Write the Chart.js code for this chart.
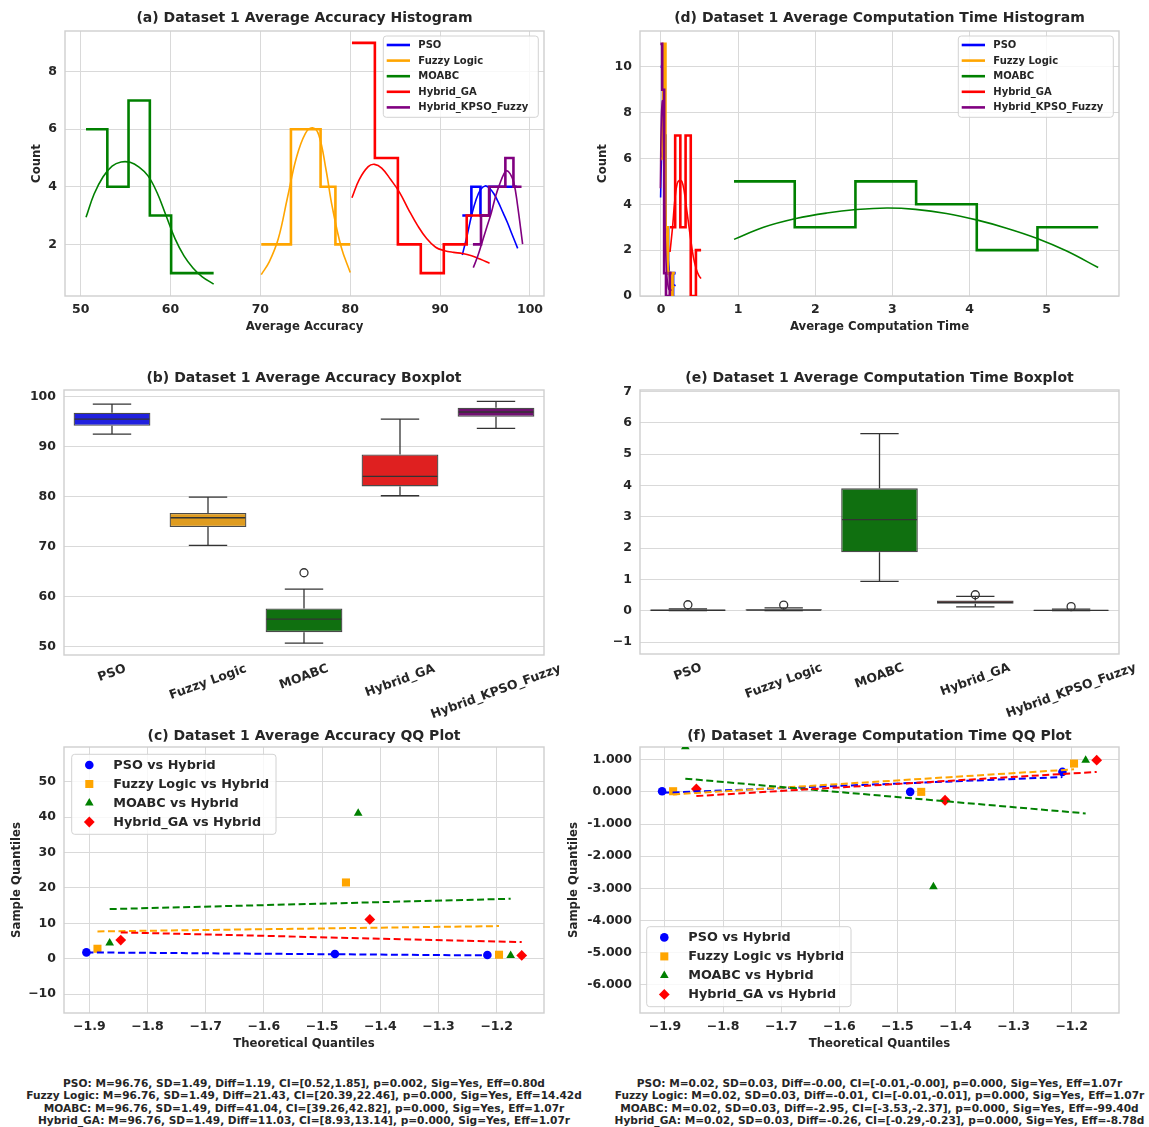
<!DOCTYPE html>
<html><head><meta charset="utf-8">
<script src="https://cdn.jsdelivr.net/npm/chart.js@4.4.1/dist/chart.umd.min.js"></script>
<style>
body{margin:0;background:#fff;width:1149px;height:1127px;position:relative;overflow:hidden;font-family:'DejaVu Sans',sans-serif;}
canvas{position:absolute;}
.note{position:absolute;font-weight:bold;font-size:10.6px;font-family:'DejaVu Sans',sans-serif;color:#262626;text-align:center;line-height:12.3px;white-space:pre;transform:translateX(-50%);}
</style></head><body>
<canvas id="ca" width="560" height="345" style="left:0;top:0"></canvas>
<canvas id="cd" width="589" height="345" style="left:560px;top:0"></canvas>
<canvas id="cb" width="560" height="385" style="left:0;top:345px"></canvas>
<canvas id="ce" width="589" height="385" style="left:560px;top:345px"></canvas>
<canvas id="cc" width="560" height="340" style="left:0;top:720px"></canvas>
<canvas id="cf" width="589" height="340" style="left:560px;top:720px"></canvas>
<div class="note" id="noteL" style="left:304px;top:1077px"></div>
<div class="note" id="noteR" style="left:879.5px;top:1077px"></div>
<script>
// ================= DATA =================
const methods = ['PSO', 'Fuzzy Logic', 'MOABC', 'Hybrid_GA', 'Hybrid_KPSO_Fuzzy'];

// (a) accuracy histogram: bin edges and counts
const accEdgesPSO   = [92.47, 93.48, 94.49, 95.50, 96.51, 97.52, 98.53];
const accCountsPSO  = [3, 4, 3, 4, 4, 4];
const accEdgesFuzzy = [70.10, 71.75, 73.40, 75.05, 76.70, 78.35, 80.00];
const accCountsFuzzy= [2, 2, 6, 6, 4, 2];
const accEdgesMOABC = [50.60, 52.97, 55.33, 57.70, 60.07, 62.43, 64.80];
const accCountsMOABC= [6, 4, 7, 3, 1, 1];
const accEdgesGA    = [80.19, 82.74, 85.30, 87.85, 90.41, 92.96, 95.52];
const accCountsGA   = [9, 5, 2, 1, 2, 3];
const accEdgesKPSO  = [93.65, 94.55, 95.45, 96.35, 97.26, 98.16, 99.06];
const accCountsKPSO = [2, 3, 4, 4, 5, 4];
// (a) KDE curves
const accKdeXPSO   = [92.47, 93.0, 93.5, 94.0, 94.5, 95.0, 95.5, 96.0, 96.5, 97.0, 97.5, 98.0, 98.63];
const accKdeYPSO   = [1.63, 2.3, 3.0, 3.55, 3.9, 4.03, 3.95, 3.75, 3.45, 3.1, 2.75, 2.35, 1.86];
const accKdeXFuzzy = [70.1, 71.0, 72.0, 73.0, 74.0, 75.0, 75.8, 76.5, 77.3, 78.0, 79.0, 80.0];
const accKdeYFuzzy = [0.95, 1.4, 2.2, 3.6, 5.0, 5.85, 6.05, 5.8, 4.6, 3.3, 1.9, 1.02];
const accKdeXMOABC = [50.6, 51.5, 52.5, 53.5, 54.5, 55.5, 56.5, 57.5, 58.5, 59.5, 60.5, 61.5, 62.5, 63.5, 64.8];
const accKdeYMOABC = [2.94, 3.75, 4.35, 4.72, 4.86, 4.85, 4.68, 4.38, 3.8, 3.0, 2.2, 1.6, 1.18, 0.88, 0.62];
const accKdeXGA    = [80.19, 81.0, 82.0, 82.7, 83.5, 84.5, 85.5, 86.5, 87.5, 88.5, 89.5, 90.5, 91.5, 92.5, 93.5, 94.5, 95.5];
const accKdeYGA    = [3.62, 4.25, 4.7, 4.78, 4.65, 4.25, 3.8, 3.2, 2.65, 2.2, 1.9, 1.78, 1.72, 1.68, 1.6, 1.48, 1.34];
const accKdeXKPSO  = [93.69, 94.2, 94.7, 95.2, 95.7, 96.2, 96.7, 97.1, 97.4, 97.8, 98.2, 98.6, 99.18];
const accKdeYKPSO  = [1.19, 1.6, 2.1, 2.6, 3.1, 3.7, 4.15, 4.45, 4.56, 4.45, 4.15, 3.4, 2.01];

// (d) computation time histogram
const timeEdgesPSO   = [-0.005, 0.027, 0.060, 0.092, 0.125, 0.157, 0.190];
const timeCountsPSO  = [10, 7, 3, 1, 0, 1];
const timeEdgesFuzzy = [-0.003, 0.028, 0.058, 0.089, 0.119, 0.150, 0.180];
const timeCountsFuzzy= [6, 11, 3, 1, 0, 1];
const timeEdgesMOABC = [0.947, 1.734, 2.521, 3.308, 4.094, 4.881, 5.668];
const timeCountsMOABC= [5, 3, 5, 4, 2, 3];
const timeEdgesGA    = [0.117, 0.184, 0.251, 0.319, 0.386, 0.453, 0.520];
const timeCountsGA   = [3, 7, 3, 7, 0, 2];
const timeEdgesKPSO  = [-0.008, 0.016, 0.041, 0.065, 0.089, 0.114, 0.138];
const timeCountsKPSO = [11, 9, 1, 0, 0, 1];
const timeKdeXPSO   = [-0.005, 0.01, 0.03, 0.05, 0.08, 0.12, 0.16, 0.19];
const timeKdeYPSO   = [4.3, 6.2, 6.4, 4.6, 2.2, 0.8, 0.5, 0.45];
const timeKdeXFuzzy = [-0.003, 0.015, 0.035, 0.055, 0.08, 0.12, 0.15, 0.18];
const timeKdeYFuzzy = [5.9, 7.6, 6.8, 4.2, 1.8, 0.6, 0.45, 0.4];
const timeKdeXMOABC = [0.947, 1.33, 1.75, 2.15, 2.53, 2.93, 3.30, 3.70, 4.09, 4.48, 4.87, 5.26, 5.668];
const timeKdeYMOABC = [2.47, 3.0, 3.38, 3.62, 3.77, 3.84, 3.78, 3.6, 3.32, 2.96, 2.52, 1.96, 1.24];
const timeKdeXGA    = [0.117, 0.15, 0.18, 0.21, 0.24, 0.27, 0.30, 0.34, 0.38, 0.42, 0.46, 0.49, 0.52];
const timeKdeYGA    = [1.92, 3.0, 4.2, 4.9, 5.05, 5.0, 4.6, 3.6, 2.6, 1.7, 1.15, 0.9, 0.76];
const timeKdeXKPSO  = [-0.008, 0.005, 0.02, 0.035, 0.05, 0.07, 0.1, 0.138];
const timeKdeYKPSO  = [4.7, 7.8, 8.5, 6.5, 3.5, 1.2, 0.3, 0.25];

// (b) accuracy boxplot statistics
const accLo  = [92.52, 70.20, 50.63, 80.16, 93.65];
const accQ1  = [94.19, 73.88, 52.84, 82.03, 95.99];
const accMed = [95.50, 75.75, 55.44, 84.03, 96.93];
const accQ3  = [96.80, 76.69, 57.58, 88.44, 97.80];
const accHi  = [98.53, 79.90, 61.46, 95.52, 99.06];
const accOutliers = [null, null, 64.73, null, null];

// (e) time boxplot statistics
const timeLo  = [0.0, 0.0, 0.94, 0.12, 0.0];
const timeQ1  = [0.008, 0.01, 1.87, 0.22, 0.008];
const timeMed = [0.015, 0.02, 2.91, 0.27, 0.013];
const timeQ3  = [0.03, 0.045, 3.91, 0.33, 0.025];
const timeHi  = [0.06, 0.09, 5.66, 0.46, 0.05];
const timeOutliers = [0.19, 0.18, null, 0.51, 0.13];

// (c)/(f) QQ plots
const qqNames = ['PSO vs Hybrid', 'Fuzzy Logic vs Hybrid', 'MOABC vs Hybrid', 'Hybrid_GA vs Hybrid'];
const qqXPSO   = [-1.905, -1.478, -1.216];
const qqXFuzzy = [-1.886, -1.459, -1.196];
const qqXMOABC = [-1.865, -1.438, -1.176];
const qqXGA    = [-1.846, -1.418, -1.157];
const accQQYPSO   = [1.79, 1.32, 1.04];
const accQQYFuzzy = [2.82, 21.56, 1.13];
const accQQYMOABC = [4.43, 41.1, 0.94];
const accQQYGA    = [5.27, 11.1, 0.94];
const accFitYPSO   = [1.79, 0.94];
const accFitYFuzzy = [7.72, 9.23];
const accFitYMOABC = [14.03, 16.95];
const accFitYGA    = [7.44, 4.71];
const timeQQYPSO   = [0.02, 0.0, 0.62];
const timeQQYFuzzy = [0.02, 0.0, 0.88];
const timeQQYMOABC = [1.40, -2.95, 0.985];
const timeQQYGA    = [0.09, -0.26, 0.985];
const timeFitYPSO   = [-0.03, 0.46];
const timeFitYFuzzy = [-0.08, 0.70];
const timeFitYMOABC = [0.41, -0.67];
const timeFitYGA    = [-0.13, 0.62];

// tick values
const accHistXTicks  = [50, 60, 70, 80, 90, 100];
const accHistYTicks  = [2, 4, 6, 8];
const timeHistXTicks = [0, 1, 2, 3, 4, 5];
const timeHistYTicks = [0, 2, 4, 6, 8, 10];
const accBoxYTicks   = [50, 60, 70, 80, 90, 100];
const timeBoxYTicks  = [-1, 0, 1, 2, 3, 4, 5, 6, 7];
const qqXTicks       = [-1.9, -1.8, -1.7, -1.6, -1.5, -1.4, -1.3, -1.2];
const accQQYTicks    = [-10, 0, 10, 20, 30, 40, 50];
const timeQQYTicks   = [-6, -5, -4, -3, -2, -1, 0, 1];

const notesLeft = [
  'PSO: M=96.76, SD=1.49, Diff=1.19, CI=[0.52,1.85], p=0.002, Sig=Yes, Eff=0.80d',
  'Fuzzy Logic: M=96.76, SD=1.49, Diff=21.43, CI=[20.39,22.46], p=0.000, Sig=Yes, Eff=14.42d',
  'MOABC: M=96.76, SD=1.49, Diff=41.04, CI=[39.26,42.82], p=0.000, Sig=Yes, Eff=1.07r',
  'Hybrid_GA: M=96.76, SD=1.49, Diff=11.03, CI=[8.93,13.14], p=0.000, Sig=Yes, Eff=1.07r'
];
const notesRight = [
  'PSO: M=0.02, SD=0.03, Diff=-0.00, CI=[-0.01,-0.00], p=0.000, Sig=Yes, Eff=1.07r',
  'Fuzzy Logic: M=0.02, SD=0.03, Diff=-0.01, CI=[-0.01,-0.01], p=0.000, Sig=Yes, Eff=1.07r',
  'MOABC: M=0.02, SD=0.03, Diff=-2.95, CI=[-3.53,-2.37], p=0.000, Sig=Yes, Eff=-99.40d',
  'Hybrid_GA: M=0.02, SD=0.03, Diff=-0.26, CI=[-0.29,-0.23], p=0.000, Sig=Yes, Eff=-8.78d'
];

// ================= STYLE =================
const lineColors = ['#0000ff', '#ffa500', '#008000', '#ff0000', '#800080'];
const boxFill = ['#2020df', '#df9c20', '#107010', '#df2020', '#701070'];
const qqStyles = ['circle', 'rect', 'triangle', 'rectRot'];
const qqRadius = [4.3, 5.7, 5.0, 5.4];
const TXT = '#262626';
const GRID = '#d9d9d9';

Chart.defaults.font.family = "'DejaVu Sans', sans-serif";
Chart.defaults.font.weight = 'bold';
Chart.defaults.color = TXT;
Chart.defaults.animation = false;
Chart.defaults.plugins.legend.display = false;
Chart.defaults.plugins.tooltip.enabled = false;

const framePlugin = {
  id: 'frame',
  beforeDatasetsDraw(chart) {
    const {ctx, chartArea: a} = chart;
    ctx.save(); ctx.strokeStyle = '#cfcfcf'; ctx.lineWidth = 1.4;
    ctx.strokeRect(a.left, a.top, a.right - a.left, a.bottom - a.top);
    ctx.restore();
  }
};
Chart.register(framePlugin);

const mplLegend = {
  id: 'mplLegend',
  afterDraw(chart, args, o) {
    if (!o || !o.show) return;
    const {ctx, chartArea: a} = chart;
    const x0 = a.left + o.dx, y0 = a.top + o.dy;
    ctx.save();
    ctx.beginPath();
    if (ctx.roundRect) ctx.roundRect(x0, y0, o.w, o.h, 3); else ctx.rect(x0, y0, o.w, o.h);
    ctx.fillStyle = 'rgba(255,255,255,0.8)'; ctx.fill();
    ctx.strokeStyle = '#d2d2d2'; ctx.lineWidth = 1; ctx.stroke();
    const items = chart.data.datasets.filter(d => d.inLegend);
    ctx.font = 'bold ' + o.fontSize + "px 'DejaVu Sans', sans-serif";
    ctx.textBaseline = 'middle'; ctx.textAlign = 'left';
    items.forEach((d, i) => {
      const cy = y0 + o.firstY + i * o.rowH;
      if (o.kind === 'line') {
        ctx.strokeStyle = d.borderColor; ctx.lineWidth = 2.6;
        ctx.beginPath(); ctx.moveTo(x0 + o.hx0, cy); ctx.lineTo(x0 + o.hx1, cy); ctx.stroke();
      } else {
        ctx.fillStyle = d.backgroundColor;
        Chart.helpers.drawPoint(ctx, {pointStyle: d.pointStyle, radius: d.pointRadius, rotation: 0, borderWidth: 0}, x0 + o.mx, cy);
      }
      ctx.fillStyle = TXT;
      ctx.fillText(d.label, x0 + o.tx, cy + 0.5);
    });
    ctx.restore();
  }
};

const boxWhisker = {
  id: 'boxWhisker',
  afterDatasetsDraw(chart, args, o) {
    if (!o || !o.lo) return;
    const {ctx} = chart; const ys = chart.scales.y;
    const meta = chart.getDatasetMeta(0);
    ctx.save(); ctx.strokeStyle = '#333333'; ctx.lineWidth = 1.3;
    const seg = (x1, y1, x2, y2) => { ctx.beginPath(); ctx.moveTo(x1, y1); ctx.lineTo(x2, y2); ctx.stroke(); };
    meta.data.forEach((bar, i) => {
      const x = bar.x, w = bar.width;
      const yLo = ys.getPixelForValue(o.lo[i]), yHi = ys.getPixelForValue(o.hi[i]);
      const yQ1 = ys.getPixelForValue(o.q1[i]), yQ3 = ys.getPixelForValue(o.q3[i]);
      const yMed = ys.getPixelForValue(o.med[i]);
      seg(x, yQ1, x, yLo); seg(x, yQ3, x, yHi);
      seg(x - w / 4, yLo, x + w / 4, yLo); seg(x - w / 4, yHi, x + w / 4, yHi);
      seg(x - w / 2 + 1, yMed, x + w / 2 - 1, yMed);
    });
    ctx.restore();
  }
};

const rotLabels = {
  id: 'rotLabels',
  afterDraw(chart, args, o) {
    if (!o || !o.labels) return;
    const {ctx} = chart; const xs = chart.scales.x; const bottom = chart.chartArea.bottom;
    const ang = 20 * Math.PI / 180, fs = 12.5, h = 14.6;
    ctx.save(); ctx.font = 'bold ' + fs + "px 'DejaVu Sans', sans-serif";
    ctx.fillStyle = TXT; ctx.textAlign = 'center'; ctx.textBaseline = 'middle';
    o.labels.forEach((lab, i) => {
      const x = xs.getPixelForValue(i);
      const w = ctx.measureText(lab).width;
      const cy = bottom + 6.5 + (w * Math.sin(ang) + h * Math.cos(ang)) / 2;
      ctx.save(); ctx.translate(x, cy); ctx.rotate(-ang); ctx.fillText(lab, 0, 0); ctx.restore();
    });
    ctx.restore();
  }
};

// ================= HELPERS =================
const minus = s => s.replace('-', '\u2212');
function stepPts(edges, counts) {
  const pts = counts.map((c, i) => ({x: edges[i], y: c}));
  pts.push({x: edges[edges.length - 1], y: counts[counts.length - 1]});
  return pts;
}
const curvePts = (xs, ys) => xs.map((x, i) => ({x, y: ys[i]}));

function linAxis(pos, min, max, ticks, fmt, fit, title, titlePad) {
  return {
    type: 'linear', position: pos, min, max,
    afterBuildTicks: s => { s.ticks = ticks.map(v => ({value: v})); },
    afterFit: fit,
    ticks: {callback: fmt, padding: pos === 'left' ? 8 : 6.5, autoSkip: false, maxRotation: 0, minRotation: 0,
            font: {size: 12.5, weight: 'bold'}, color: TXT},
    grid: {color: GRID, lineWidth: 1, drawTicks: false},
    border: {display: false},
    title: title ? {display: true, text: title, font: {size: 11.7, weight: 'bold'}, color: TXT, padding: titlePad} : {display: false}
  };
}
function titleOpt(text, C, T) {
  const lh = 14 * 1.2;
  return {display: true, text, fullSize: false, font: {size: 14, weight: 'bold'}, color: TXT,
          padding: {top: C - lh / 2, bottom: T - C - lh / 2}};
}
function histDatasets(edges, counts, kx, ky) {
  const out = [];
  methods.forEach((m, i) => {
    out.push({label: m, data: stepPts(edges[i], counts[i]), stepped: true, borderColor: lineColors[i],
              backgroundColor: lineColors[i], borderWidth: 2.6, pointRadius: 0, fill: false, order: 20 - i * 2, inLegend: true});
    out.push({label: m + ' KDE', data: curvePts(kx[i], ky[i]), borderColor: lineColors[i], borderWidth: 1.6,
              pointRadius: 0, fill: false, tension: 0.4, order: 19 - i * 2});
  });
  return out;
}
function qqDatasets(xs, ys, fits) {
  const out = [];
  qqNames.forEach((n, i) => {
    out.push({label: n, data: curvePts(xs[i], ys[i]), pointStyle: qqStyles[i], pointRadius: qqRadius[i],
              backgroundColor: lineColors[i], borderColor: lineColors[i], borderWidth: 0, showLine: false, inLegend: true, order: 10 - i});
    out.push({label: n + ' fit', data: curvePts([xs[i][0], xs[i][2]], fits[i]), showLine: true, borderColor: lineColors[i],
              borderDash: [7, 3.5], borderWidth: 2, pointRadius: 0, fill: false, order: 5 - i});
  });
  return out;
}
function boxDatasets(q1, q3, outliers) {
  return [
    {type: 'bar', data: q1.map((v, i) => [v, q3[i]]), backgroundColor: boxFill, borderColor: '#4a4a4a',
     borderWidth: 1.3, borderSkipped: false, barPercentage: 0.8, categoryPercentage: 1.0, order: 2},
    {type: 'line', data: outliers, showLine: false, pointRadius: 4, pointStyle: 'circle',
     pointBackgroundColor: 'rgba(255,255,255,0)', pointBorderColor: '#333333', pointBorderWidth: 1.3, order: 1}
  ];
}
const base = {responsive: false, devicePixelRatio: 1, animation: false};

// ================= (a) =================
new Chart(document.getElementById('ca'), {
  type: 'line',
  data: {datasets: histDatasets(
    [accEdgesPSO, accEdgesFuzzy, accEdgesMOABC, accEdgesGA, accEdgesKPSO],
    [accCountsPSO, accCountsFuzzy, accCountsMOABC, accCountsGA, accCountsKPSO],
    [accKdeXPSO, accKdeXFuzzy, accKdeXMOABC, accKdeXGA, accKdeXKPSO],
    [accKdeYPSO, accKdeYFuzzy, accKdeYMOABC, accKdeYGA, accKdeYKPSO])},
  options: Object.assign({}, base, {
    layout: {padding: {left: 0, right: 560 - 544, top: 0, bottom: 0}},
    scales: {
      x: linAxis('bottom', 48.26, 101.56, accHistXTicks, v => String(v), s => { s.height = 345 - 296; }, 'Average Accuracy', {top: 0, bottom: 11}),
      y: linAxis('left', 0.205, 9.413, accHistYTicks, v => String(v), s => { s.width = 65; }, 'Count', {top: 30, bottom: 0})
    },
    plugins: {title: titleOpt('(a) Dataset 1 Average Accuracy Histogram', 18.5, 31),
      mplLegend: {show: true, kind: 'line', dx: 318.3, dy: 5, w: 155, h: 81.3, firstY: 9, rowH: 15.6, hx0: 3.4, hx1: 26.7, tx: 35, fontSize: 10}}
  }),
  plugins: [mplLegend]
});

// ================= (d) =================
new Chart(document.getElementById('cd'), {
  type: 'line',
  data: {datasets: histDatasets(
    [timeEdgesPSO, timeEdgesFuzzy, timeEdgesMOABC, timeEdgesGA, timeEdgesKPSO],
    [timeCountsPSO, timeCountsFuzzy, timeCountsMOABC, timeCountsGA, timeCountsKPSO],
    [timeKdeXPSO, timeKdeXFuzzy, timeKdeXMOABC, timeKdeXGA, timeKdeXKPSO],
    [timeKdeYPSO, timeKdeYFuzzy, timeKdeYMOABC, timeKdeYGA, timeKdeYKPSO])},
  options: Object.assign({}, base, {
    layout: {padding: {left: 0, right: 589 - 559, top: 0, bottom: 0}},
    scales: {
      x: linAxis('bottom', -0.272, 5.938, timeHistXTicks, v => String(v), s => { s.height = 345 - 296; }, 'Average Computation Time', {top: 0, bottom: 11}),
      y: linAxis('left', 0, 11.56, timeHistYTicks, v => String(v), s => { s.width = 80; }, 'Count', {top: 36, bottom: 0})
    },
    plugins: {title: titleOpt('(d) Dataset 1 Average Computation Time Histogram', 18.5, 31),
      mplLegend: {show: true, kind: 'line', dx: 318.3, dy: 5, w: 155, h: 81.3, firstY: 9, rowH: 15.6, hx0: 3.4, hx1: 26.7, tx: 35, fontSize: 10}}
  }),
  plugins: [mplLegend]
});

// ================= (b) =================
function catAxis(h) {
  return {type: 'category', offset: true, grid: {display: false, drawTicks: false}, border: {display: false},
          ticks: {display: false}, afterFit: s => { s.height = h; }};
}
new Chart(document.getElementById('cb'), {
  type: 'bar',
  data: {labels: methods, datasets: boxDatasets(accQ1, accQ3, accOutliers)},
  options: Object.assign({}, base, {
    layout: {padding: {left: 0, right: 560 - 544, top: 0, bottom: 0}},
    scales: {
      x: catAxis(385 - 310),
      y: linAxis('left', 48.26, 101.34, accBoxYTicks, v => String(v), s => { s.width = 64; }, null)
    },
    plugins: {title: titleOpt('(b) Dataset 1 Average Accuracy Boxplot', 33.5, 45),
      boxWhisker: {lo: accLo, q1: accQ1, med: accMed, q3: accQ3, hi: accHi},
      rotLabels: {labels: methods}}
  }),
  plugins: [boxWhisker, rotLabels]
});

// ================= (e) =================
new Chart(document.getElementById('ce'), {
  type: 'bar',
  data: {labels: methods, datasets: boxDatasets(timeQ1, timeQ3, timeOutliers)},
  options: Object.assign({}, base, {
    layout: {padding: {left: 0, right: 589 - 559, top: 0, bottom: 0}},
    scales: {
      x: catAxis(385 - 309),
      y: linAxis('left', -1.383, 7.053, timeBoxYTicks, v => minus(String(v)), s => { s.width = 80; }, null)
    },
    plugins: {title: titleOpt('(e) Dataset 1 Average Computation Time Boxplot', 33.5, 45),
      boxWhisker: {lo: timeLo, q1: timeQ1, med: timeMed, q3: timeQ3, hi: timeHi},
      rotLabels: {labels: methods}}
  }),
  plugins: [boxWhisker, rotLabels]
});

// ================= (c) =================
const qqXs = [qqXPSO, qqXFuzzy, qqXMOABC, qqXGA];
new Chart(document.getElementById('cc'), {
  type: 'scatter',
  data: {datasets: qqDatasets(qqXs, [accQQYPSO, accQQYFuzzy, accQQYMOABC, accQQYGA],
                                    [accFitYPSO, accFitYFuzzy, accFitYMOABC, accFitYGA])},
  options: Object.assign({}, base, {
    layout: {padding: {left: 0, right: 560 - 544, top: 0, bottom: 0}},
    scales: {
      x: linAxis('bottom', -1.9435, -1.1187, qqXTicks, v => minus(v.toFixed(1)), s => { s.height = 340 - 293; }, 'Theoretical Quantiles', {top: 0, bottom: 9}),
      y: linAxis('left', -15.34, 59.85, accQQYTicks, v => minus(String(v)), s => { s.width = 64; }, 'Sample Quantiles', {top: 10, bottom: 0})
    },
    plugins: {title: titleOpt('(c) Dataset 1 Average Accuracy QQ Plot', 16, 27),
      mplLegend: {show: true, kind: 'marker', dx: 7.7, dy: 7.3, w: 204.3, h: 80, firstY: 10.7, rowH: 19, mx: 17.6, tx: 41.6, fontSize: 12.8}}
  }),
  plugins: [mplLegend]
});

// ================= (f) =================
new Chart(document.getElementById('cf'), {
  type: 'scatter',
  data: {datasets: qqDatasets(qqXs, [timeQQYPSO, timeQQYFuzzy, timeQQYMOABC, timeQQYGA],
                                    [timeFitYPSO, timeFitYFuzzy, timeFitYMOABC, timeFitYGA])},
  options: Object.assign({}, base, {
    layout: {padding: {left: 0, right: 589 - 559, top: 0, bottom: 0}},
    scales: {
      x: linAxis('bottom', -1.943, -1.1186, qqXTicks, v => minus(v.toFixed(1)), s => { s.height = 340 - 293; }, 'Theoretical Quantiles', {top: 0, bottom: 9}),
      y: linAxis('left', -6.876, 1.395, timeQQYTicks, v => v.toFixed(3), s => { s.width = 80; }, 'Sample Quantiles', {top: 7, bottom: 0})
    },
    plugins: {title: titleOpt('(f) Dataset 1 Average Computation Time QQ Plot', 16, 27),
      mplLegend: {show: true, kind: 'marker', dx: 6.7, dy: 179.7, w: 204.3, h: 80, firstY: 10.7, rowH: 19, mx: 17.6, tx: 41.6, fontSize: 12.8}}
  }),
  plugins: [mplLegend]
});

document.getElementById('noteL').textContent = notesLeft.join('\n');
document.getElementById('noteR').textContent = notesRight.join('\n');
</script>
</body></html>
